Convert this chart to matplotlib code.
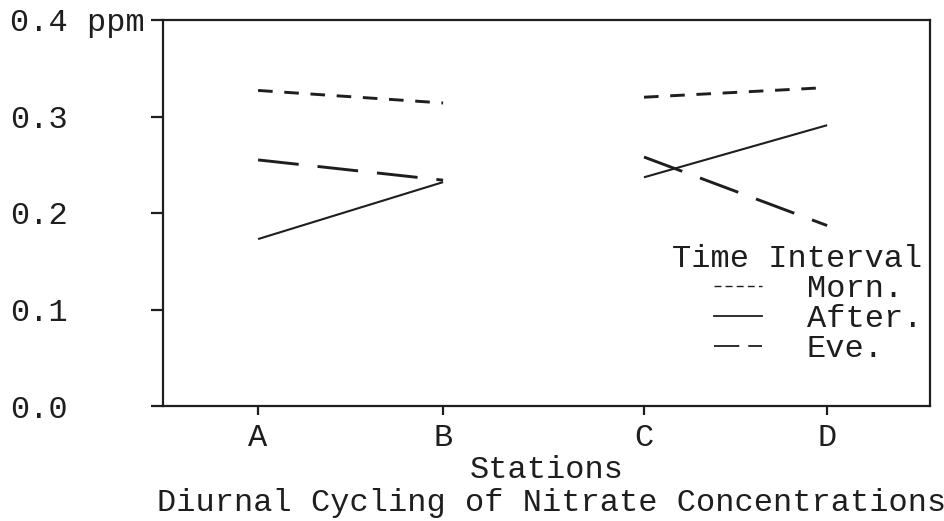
import numpy as np
import matplotlib
matplotlib.use('Agg')
import matplotlib.pyplot as plt
from matplotlib.lines import Line2D

plt.rcParams['font.family'] = ['Liberation Mono', 'DejaVu Sans Mono']

# data (ppm)
stations = ['A', 'B', 'C', 'D']
morn = [0.327, 0.314, 0.320, 0.330]
after = [0.173, 0.232, 0.237, 0.291]
eve = [0.255, 0.234, 0.258, 0.187]
yticks = [0.0, 0.1, 0.2, 0.3, 0.4]
ytick_labels = ['0.0', '0.1', '0.2', '0.3', '0.4 ppm']

# layout: station spacing on the typed sheet is a bit uneven
station_pos = [0.0, 1.0, 2.086, 3.076]
ink = '#1e1e1e'
fs = 23

fig = plt.figure(figsize=(9.45, 5.21), dpi=100)
ax = fig.add_axes([163/945, 1 - 406/521, 767/945, 386/521])

x = np.array(station_pos)
series = [(morn, dict(lw=2.1, dashes=(5, 4))),
          (after, dict(lw=1.5)),
          (eve, dict(lw=2.1, dashes=(14, 6.5)))]
for vals, style in series:
    v = np.array(vals)
    # A-B and C-D are drawn as separate pieces
    ax.plot(x[:2], v[:2], color=ink, solid_capstyle='butt', dash_capstyle='butt', **style)
    ax.plot(x[2:], v[2:], color=ink, solid_capstyle='butt', dash_capstyle='butt', **style)

ax.set_xlim(-0.514, 3.632)
ax.set_ylim(0, 0.4)

ax.set_xticks(station_pos)
ax.set_xticklabels(stations)
ax.set_yticks(yticks)
ax.set_yticklabels(ytick_labels)
for lab in ax.get_yticklabels():
    lab.set_horizontalalignment('left')

ax.tick_params(axis='y', direction='out', length=9, width=1.6, pad=101,
               labelsize=fs, colors=ink)
ax.tick_params(axis='x', direction='out', length=6.5, width=1.6, pad=6,
               labelsize=fs, colors=ink)
for s in ax.spines.values():
    s.set_linewidth(1.6)
    s.set_color(ink)

ax.set_xlabel('Stations', fontsize=fs, color=ink, labelpad=1)
fig.text(552/945, 1 - 503/521, 'Diurnal Cycling of Nitrate Concentrations',
         ha='center', va='center', fontsize=fs, color=ink)

handles = [Line2D([], [], color=ink, lw=1.0, dashes=(5, 3)),
           Line2D([], [], color=ink, lw=1.3),
           Line2D([], [], color=ink, lw=1.3, dashes=(14, 5))]
leg = ax.legend(handles, ['Morn.', 'After.', 'Eve.'], title='Time Interval',
                loc='upper right', bbox_to_anchor=(0.99, 0.42),
                frameon=False, fontsize=fs, title_fontsize=fs,
                handlelength=1.5, handletextpad=1.4, labelspacing=0.0,
                borderpad=0, borderaxespad=0, alignment='right')
for t in leg.get_texts():
    t.set_color(ink)
leg.get_title().set_color(ink)

fig.savefig('out.png', dpi=100)
